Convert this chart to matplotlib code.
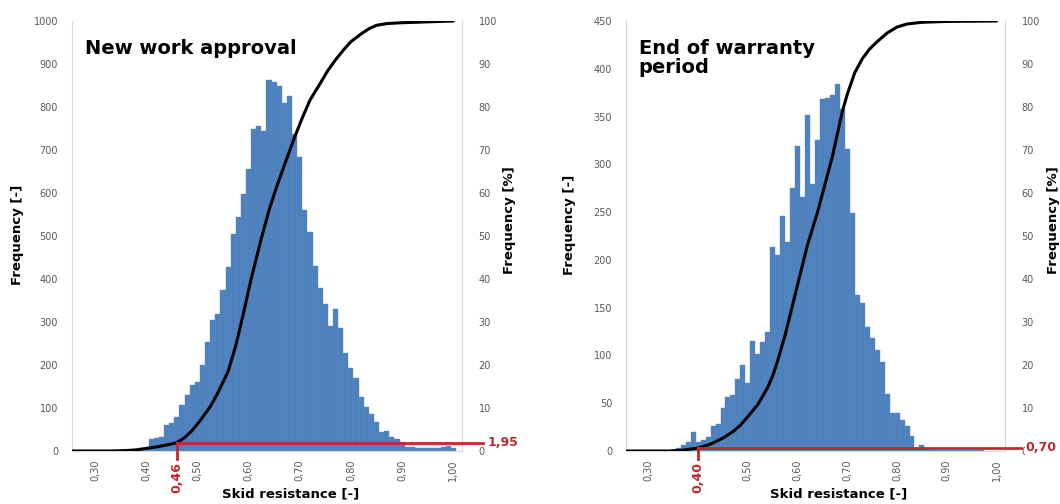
import matplotlib
matplotlib.use("Agg")
import matplotlib.pyplot as plt
from matplotlib.ticker import FixedLocator, FuncFormatter

plt.rcParams['font.family'] = ['DejaVu Sans']

# ---- data ----
# left panel: new work approval, bins of 0.01
new_bins = [0.37, 0.38, 0.39, 0.40, 0.41, 0.42, 0.43, 0.44, 0.45, 0.46, 0.47, 0.48,
            0.49, 0.50, 0.51, 0.52, 0.53, 0.54, 0.55, 0.56, 0.57, 0.58, 0.59, 0.60,
            0.61, 0.62, 0.63, 0.64, 0.65, 0.66, 0.67, 0.68, 0.69, 0.70, 0.71, 0.72,
            0.73, 0.74, 0.75, 0.76, 0.77, 0.78, 0.79, 0.80, 0.81, 0.82, 0.83, 0.84,
            0.85, 0.86, 0.87, 0.88, 0.89, 0.90, 0.91, 0.92, 0.93, 0.94, 0.95, 0.96,
            0.97, 0.98, 0.99, 1.00]
new_counts = [2, 4, 6, 8, 28, 30, 33, 60, 64, 80, 107, 130,
              153, 161, 200, 254, 305, 318, 374, 428, 505, 544, 598, 656,
              749, 756, 745, 862, 857, 849, 810, 826, 737, 683, 560, 510,
              430, 380, 343, 290, 331, 285, 227, 192, 169, 126, 103, 87,
              68, 45, 47, 33, 27, 22, 10, 9, 8, 6, 6, 7,
              8, 9, 11, 6]
new_cdf_x = [0.255, 0.33, 0.36, 0.38, 0.40, 0.42, 0.44, 0.46, 0.475, 0.49, 0.505,
             0.525, 0.54, 0.56, 0.575, 0.59, 0.605, 0.625, 0.64, 0.655, 0.67,
             0.69, 0.705, 0.72, 0.74, 0.755, 0.77, 0.785, 0.80, 0.82, 0.835,
             0.85, 0.87, 0.90, 0.95, 1.00]
new_cdf_y = [0.0, 0.0, 0.1, 0.25, 0.6, 0.95, 1.4, 1.95, 3.1, 4.8, 7.0,
             10.3, 13.5, 18.5, 24.5, 32.0, 40.0, 49.5, 56.0, 61.5, 66.5,
             73.0, 77.5, 81.6, 85.5, 88.5, 91.0, 93.2, 95.2, 97.0, 98.2,
             99.0, 99.4, 99.6, 99.8, 100.0]

# right panel: end of warranty period
war_bins = [0.35, 0.36, 0.37, 0.38, 0.39, 0.40, 0.41, 0.42, 0.43, 0.44, 0.45, 0.46,
            0.47, 0.48, 0.49, 0.50, 0.51, 0.52, 0.53, 0.54, 0.55, 0.56, 0.57, 0.58,
            0.59, 0.60, 0.61, 0.62, 0.63, 0.64, 0.65, 0.66, 0.67, 0.68, 0.69, 0.70,
            0.71, 0.72, 0.73, 0.74, 0.75, 0.76, 0.77, 0.78, 0.79, 0.80, 0.81, 0.82,
            0.83, 0.84, 0.85, 0.86, 0.87, 0.88, 0.89, 0.90, 0.91, 0.92, 0.93, 0.94,
            0.95, 0.96, 0.97]
war_counts = [1, 3, 6, 9, 20, 9, 12, 15, 26, 28, 45, 57,
              59, 75, 90, 71, 115, 101, 114, 125, 214, 205, 246, 219,
              275, 319, 266, 352, 279, 325, 368, 369, 373, 384, 358, 316,
              249, 163, 155, 130, 118, 106, 93, 60, 40, 40, 32, 26,
              16, 3, 6, 2, 1, 1, 1, 1, 1, 1, 1, 1,
              1, 1, 1]
war_cdf_x = [0.255, 0.34, 0.37, 0.40, 0.425, 0.45, 0.47, 0.485, 0.50, 0.52, 0.54,
             0.55, 0.56, 0.575, 0.59, 0.605, 0.62, 0.64, 0.655, 0.67, 0.69, 0.70,
             0.715, 0.73, 0.745, 0.76, 0.78, 0.80, 0.82, 0.85, 0.90, 1.00]
war_cdf_y = [0.0, 0.0, 0.2, 0.7, 1.6, 3.0, 4.5, 6.0, 8.0, 10.8, 14.8,
             17.5, 21.0, 27.0, 34.0, 41.0, 48.0, 55.5, 62.0, 68.5, 79.0, 83.0,
             88.0, 91.2, 93.5, 95.2, 97.2, 98.6, 99.3, 99.7, 99.9, 100.0]

x_ticks = [0.30, 0.40, 0.50, 0.60, 0.70, 0.80, 0.90, 1.00]
new_limit = (0.46, 1.95)
war_limit = (0.40, 0.70)

BLUE = "#4f81bd"
RED = "#c0282d"
GREY = "#595959"
SPINE = "#d9d9d9"

fig = plt.figure(figsize=(10.6, 5.04), dpi=100)


def comma(v, pos=None):
    return f"{v:.2f}".replace(".", ",")


def panel(rect, bins, counts, ymax, ystep, cdf_x, cdf_y, limit, title, line_end):
    ax = fig.add_axes(rect)
    ax.bar(bins, counts, width=0.01, color=BLUE, edgecolor="#5b8cc6",
           linewidth=0.3, zorder=2)
    ax.set_xlim(0.255, 1.017)
    ax.set_ylim(0, ymax)
    ax.yaxis.set_major_locator(FixedLocator(list(range(0, ymax + 1, ystep))))
    # the limit value replaces a grey tick label that would sit under it
    ticks = [t for t in x_ticks if abs(t - limit[0]) > 0.03]
    ax.xaxis.set_major_locator(FixedLocator(ticks))
    ax.xaxis.set_major_formatter(FuncFormatter(comma))
    ax.tick_params(axis="x", length=0, labelsize=7, labelcolor=GREY,
                   labelrotation=90, pad=6)
    ax.tick_params(axis="y", length=0, labelsize=7, labelcolor=GREY, pad=10)
    for s in ["top", "right"]:
        ax.spines[s].set_visible(False)
    ax.spines["left"].set_color(SPINE)
    ax.spines["bottom"].set_color(SPINE)

    ax2 = ax.twinx()
    ax2.set_ylim(0, 100)
    ax2.yaxis.set_major_locator(FixedLocator(list(range(0, 101, 10))))
    ax2.tick_params(axis="y", length=0, labelsize=7, labelcolor=GREY, pad=12)
    for s in ["top", "left", "bottom"]:
        ax2.spines[s].set_visible(False)
    ax2.spines["right"].set_color(SPINE)
    ax2.plot(cdf_x, cdf_y, color="black", lw=2.2, solid_joinstyle="round",
             solid_capstyle="round", zorder=3)

    # red limit marks
    lx, ly = limit
    ax2.plot([lx, line_end], [ly, ly], color=RED, lw=2, clip_on=False, zorder=4)
    ax2.plot([lx, lx], [ly, -1.8], color=RED, lw=2, clip_on=False, zorder=4)
    ax2.text(line_end + 0.008, ly, comma(ly), color=RED, fontsize=9,
             fontweight="bold", va="center", ha="left", clip_on=False, zorder=5,
             bbox=dict(facecolor="white", edgecolor="none", pad=0.5))
    ax2.text(lx, -2.5, comma(lx), color=RED, fontsize=9, fontweight="bold",
             rotation=90, va="top", ha="center", clip_on=False)

    ax.text(0.033, 0.958, title, transform=ax.transAxes, fontsize=14,
            fontweight="bold", va="top", ha="left", linespacing=1.0, zorder=5)
    ax.set_xlabel("Skid resistance [-]", fontsize=9.5, fontweight="bold")
    ax.xaxis.set_label_coords(0.56, -0.085)
    return ax, ax2


axl, axl2 = panel([72 / 1060, 53 / 504, 390 / 1060, 430 / 504], new_bins, new_counts,
                  1000, 100, new_cdf_x, new_cdf_y, new_limit, "New work approval",
                  1.058)
axr, axr2 = panel([626 / 1060, 53 / 504, 379 / 1060, 430 / 504], war_bins, war_counts,
                  450, 50, war_cdf_x, war_cdf_y, war_limit,
                  "End of warranty\nperiod", 1.05)

for x, y, s in [(18, 235, "Frequency [-]"), (510, 220, "Frequency [%]"),
                (570, 225, "Frequency [-]"), (1054, 220, "Frequency [%]")]:
    fig.text(x / 1060, 1 - y / 504, s, rotation=90, fontsize=9.5,
             fontweight="bold", ha="center", va="center")

fig.savefig("out.png", dpi=100)
